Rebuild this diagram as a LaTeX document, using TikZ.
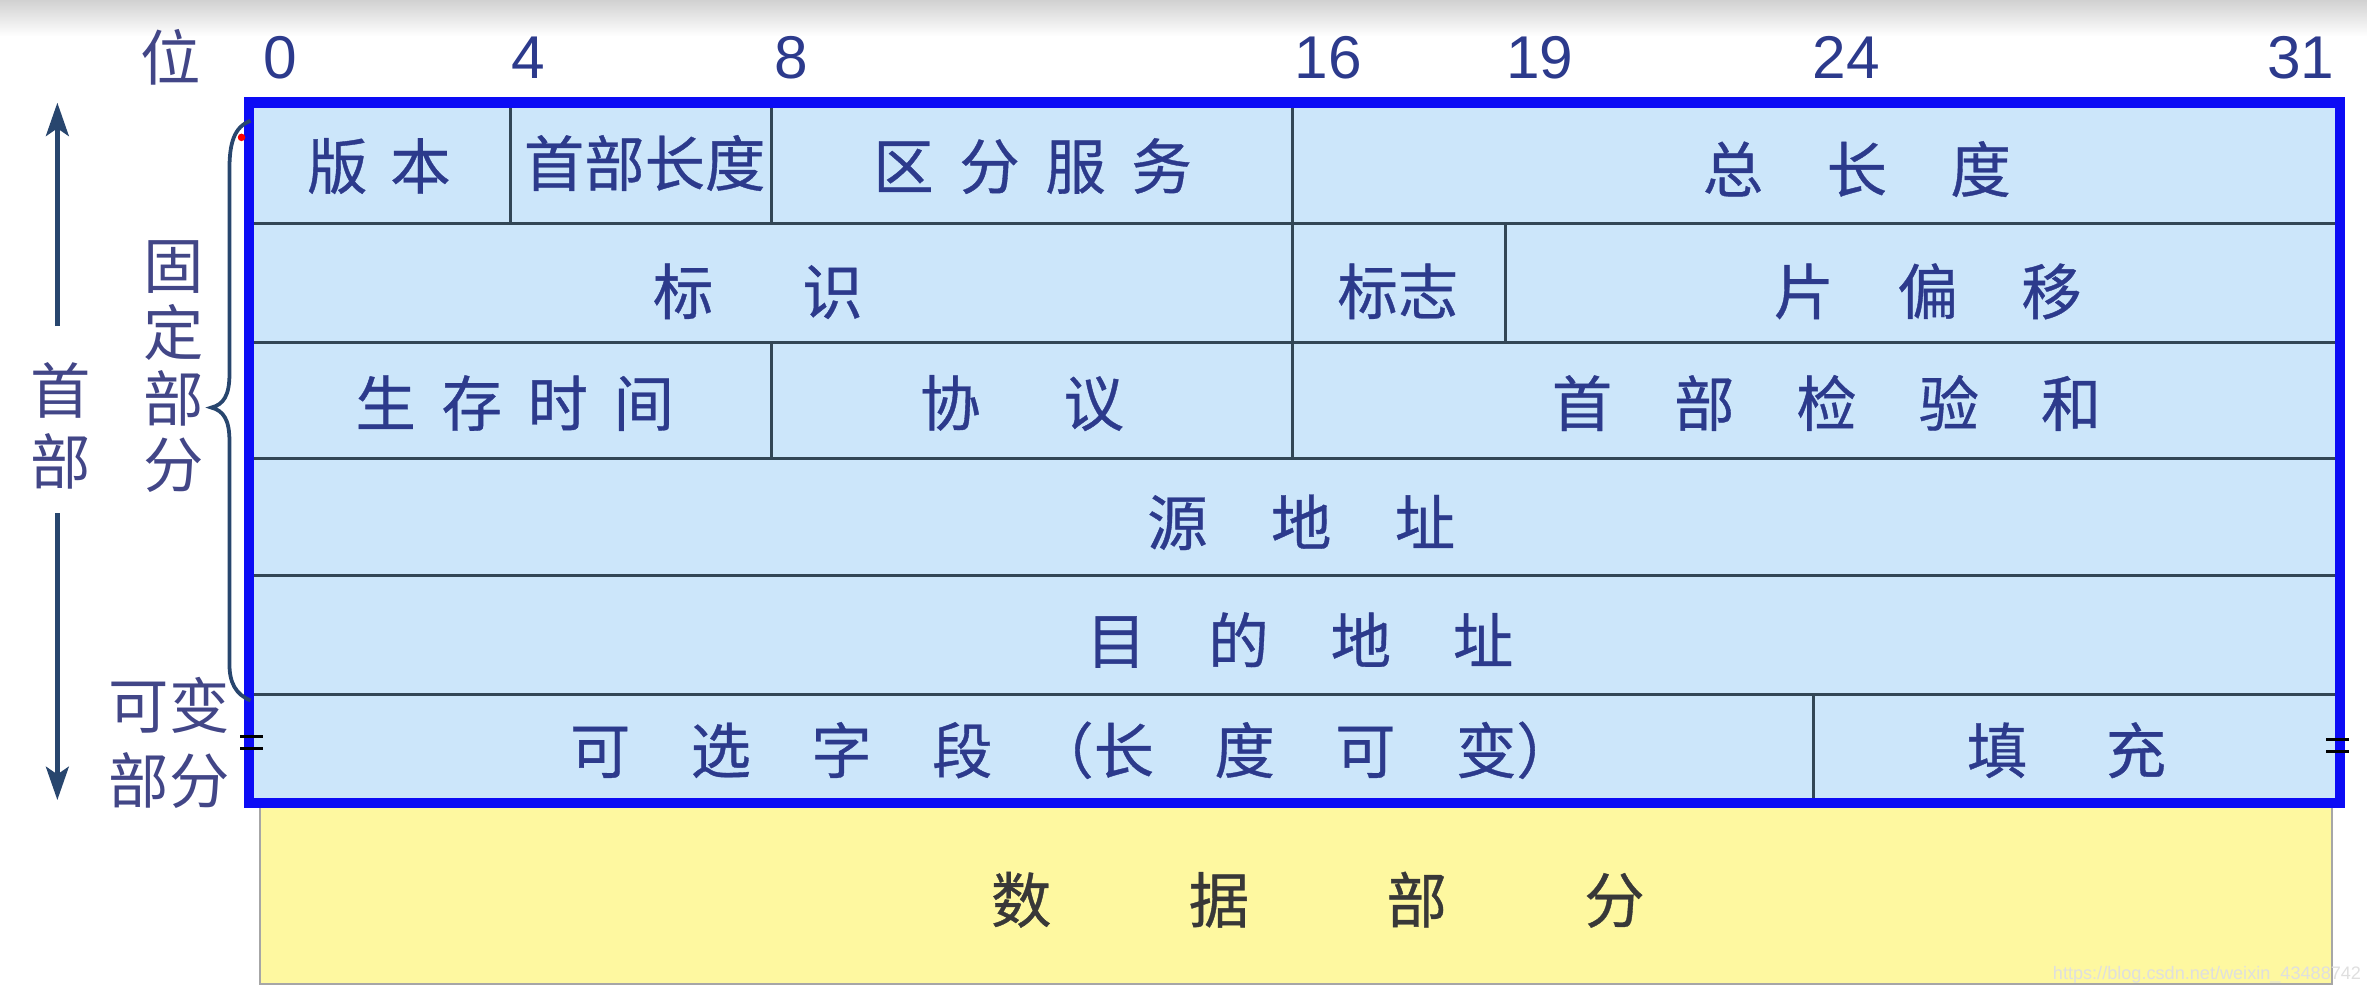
\documentclass[tikz,border=0pt]{standalone}
\usepackage{fontspec}
\setmainfont{Liberation Sans}
\newfontfamily\cjk[FakeBold=0.6]{Noto Sans CJK SC}
\newfontfamily\cjklight{Noto Sans CJK SC}
\usetikzlibrary{fit,arrows.meta}
\definecolor{txt}{RGB}{44,58,140}
\definecolor{sidetxt}{RGB}{66,70,135}
\definecolor{cellbg}{RGB}{204,230,250}
\definecolor{gridc}{RGB}{50,70,85}
\definecolor{frameblue}{RGB}{12,12,245}
\definecolor{datay}{RGB}{254,248,160}
\definecolor{arrc}{RGB}{40,70,110}
\newcommand{\gp}[1]{\hspace*{#1pt}}
\tikzset{
  cell/.style={draw=gridc, line width=2pt, fill=cellbg, inner sep=0pt},
  lbl/.style={text=txt, font=\cjk\fontsize{40}{44}\selectfont, inner sep=0pt},
  sidelbl/.style={text=sidetxt, inner sep=0pt, align=center},
  num/.style={text=txt, font=\fontsize{40}{44}\selectfont, inner sep=0pt},
  datalbl/.style={text=black!78, font=\cjk\fontsize{40}{44}\selectfont, inner sep=0pt},
  arr/.style={draw=arrc, line width=3.5pt, -{Stealth[length=22pt,width=15pt,inset=5pt]}},
  bracec/.style={draw=arrc, line width=2.5pt},
  brk/.style={draw=black, line width=2pt}
}
\begin{document}
\begin{tikzpicture}[x=1pt,y=-1pt]
\useasboundingbox (0,0) rectangle (1568,664);
\fill[top color=black!18, bottom color=white] (0,0) rectangle (1568,24);

% data part
\node[draw=gray!70, line width=1.5pt, fill=datay, fit={(172,532) (1545,652)}, inner sep=0pt] (data) {};
\node[datalbl] (t-data) at (873,596) {数\gp{91}据\gp{91}部\gp{91}分};

% row 1
\node[cell, fit={(165,68) (338,148)}] (c-ver) {};
\node[cell, fit={(338,68) (511,148)}] (c-ihl) {};
\node[cell, fit={(511,68) (856,148)}] (c-tos) {};
\node[cell, fit={(856,68) (1550,148)}] (c-len) {};
% row 2
\node[cell, fit={(165,148) (856,227)}] (c-id) {};
\node[cell, fit={(856,148) (997,227)}] (c-flag) {};
\node[cell, fit={(997,148) (1550,227)}] (c-off) {};
% row 3
\node[cell, fit={(165,227) (511,304)}] (c-ttl) {};
\node[cell, fit={(511,227) (856,304)}] (c-proto) {};
\node[cell, fit={(856,227) (1550,304)}] (c-sum) {};
% rows 4-6
\node[cell, fit={(165,304) (1550,381)}] (c-src) {};
\node[cell, fit={(165,381) (1550,460)}] (c-dst) {};
\node[cell, fit={(165,460) (1201,532)}] (c-opt) {};
\node[cell, fit={(1201,460) (1550,532)}] (c-pad) {};

% labels
\node[lbl] (t-ver) at (251,110) {版\gp{15}本};
\node[lbl] (t-ihl) at (427,108) {首部长度};
\node[lbl] (t-tos) at (684,110) {区\gp{17}分\gp{17}服\gp{17}务};
\node[lbl] (t-len) at (1230,112) {总\gp{42}长\gp{42}度};
\node[lbl] (t-id) at (502,193) {标\gp{59}识};
\node[lbl] (t-flag) at (926,193) {标志};
\node[lbl] (t-off) at (1277,193) {片\gp{42}偏\gp{42}移};
\node[lbl] (t-ttl) at (341,267) {生\gp{17}存\gp{17}时\gp{17}间};
\node[lbl] (t-proto) at (677,267) {协\gp{55}议};
\node[lbl] (t-sum) at (1210,267) {首\gp{41}部\gp{41}检\gp{41}验\gp{41}和};
\node[lbl] (t-src) at (862,346) {源\gp{42}地\gp{42}址};
\node[lbl] (t-dst) at (861,424) {目\gp{41}的\gp{41}地\gp{41}址};
\node[lbl] (t-opt) at (711,497) {可\gp{40}选\gp{40}字\gp{40}段\gp{27}（长\gp{40}度\gp{40}可\gp{40}变）};
\node[lbl] (t-pad) at (1369,497) {填\gp{52}充};

% outer frame of header
\node[draw=frameblue, line width=7pt, fit={(165,68) (1550,532)}, inner sep=0pt] (hdr) {};

% break marks
\draw[brk] (159,488) -- (174,488) (159,496) -- (174,496);
\draw[brk] (1541,490) -- (1556,490) (1541,498) -- (1556,498);

% bit positions
\node[sidelbl, font=\cjklight\fontsize{40}{44}\selectfont] (t-wei) at (113,38) {位};
\node[num] (b0) at (186,38) {0};
\node[num] (b4) at (350,38) {4};
\node[num] (b8) at (524,38) {8};
\node[num] (b16) at (880,38) {16};
\node[num] (b19) at (1020,38) {19};
\node[num] (b24) at (1223,38) {24};
\node[num] (b31) at (1524,38) {31};

% left labels
\node[sidelbl, font=\cjklight\fontsize{40}{47}\selectfont] (t-hdr) at (40,282) {首\\部};
\coordinate (a-top) at (38,68);
\coordinate (a-bot) at (38,530);
\coordinate (a-s1) at (38,216);
\coordinate (a-s2) at (38,340);
\draw[arr] (a-s1) -- (a-top);
\draw[arr] (a-s2) -- (a-bot);

\node[sidelbl, font=\cjklight\fontsize{40}{44}\selectfont] (t-fix) at (115,243) {固\\定\\部\\分};
\node[sidelbl, font=\cjklight\fontsize{40}{50}\selectfont] (t-var) at (112,492) {可变\\部分};

% brace
\draw[bracec] (166,80) .. controls (155,84) and (152,95) .. (152,112) -- (152,248)
  .. controls (152,262) and (148,268) .. (140,270)
  .. controls (148,272) and (152,278) .. (152,292) -- (152,440)
  .. controls (152,452) and (156,460) .. (166,464);
\fill[red] (160,91) circle (2.5);

% watermark
\node[text=white!75!gray, font=\fontsize{12}{14}\selectfont, inner sep=0pt] (wm) at (1462,646) {https://blog.csdn.net/weixin\_43488742};
\end{tikzpicture}
\end{document}
